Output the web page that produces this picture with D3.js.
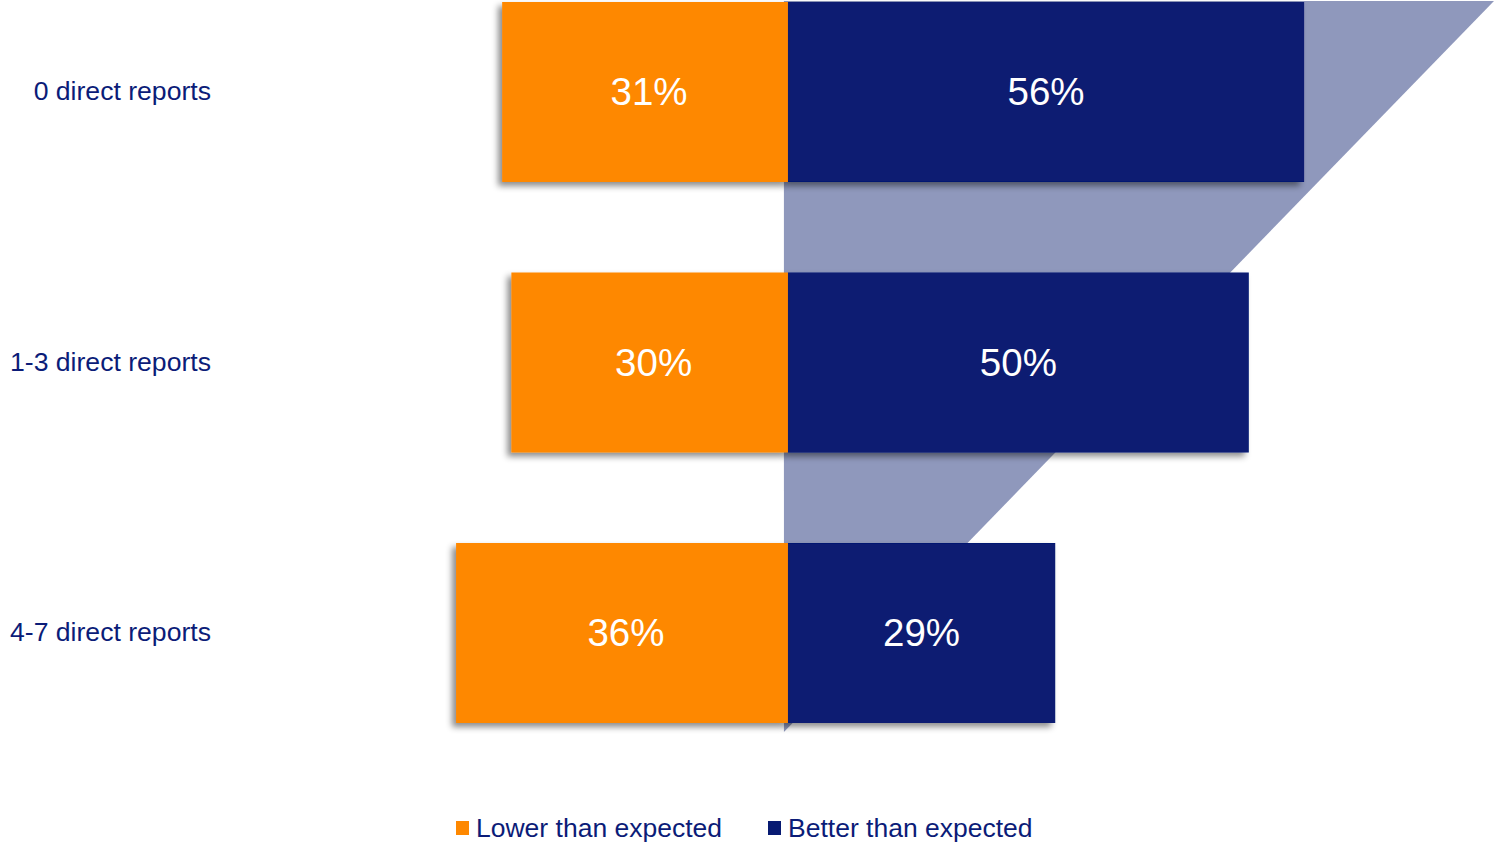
<!DOCTYPE html>
<html>
<head>
<meta charset="utf-8">
<script src="https://cdn.jsdelivr.net/npm/d3@7"></script>
<style>
  html, body { margin: 0; padding: 0; background: #ffffff; }
  svg { display: block; }
  text { font-family: Arial, "Liberation Sans", sans-serif; }
</style>
</head>
<body>
<svg id="chart" width="1494" height="843"></svg>
<script>
const categories = ["0 direct reports", "1-3 direct reports", "4-7 direct reports"];
const lowerValues = [31, 30, 36];
const betterValues = [56, 50, 29];
const seriesNames = ["Lower than expected", "Better than expected"];
const funnelReach = 76.6; // extent of the decorative funnel on the value axis

const colors = { lower: "#FE8800", better: "#071A72", funnel: "#8F98BC", text: "#0B1C78" };

const svg = d3.select("#chart");

const x = d3.scaleLinear().domain([-40, funnelReach]).range([788 - 40 * 9.22, 1494]);
const y = d3.scaleBand().domain(categories).range([2, 723]).paddingInner(0.3346).paddingOuter(0);

const defs = svg.append("defs");
const f = defs.append("filter").attr("id", "shadow").attr("x", "-10%").attr("y", "-10%").attr("width", "120%").attr("height", "125%");
f.append("feDropShadow").attr("dx", -4).attr("dy", 4).attr("stdDeviation", 3)
  .attr("flood-color", "#000").attr("flood-opacity", 0.45);

// decorative funnel behind the bars
const x0 = x(0);
const funnelTop = y.range()[0] - 1;
const funnelBottom = y.range()[1] + 9;
svg.append("polygon")
  .attr("points", [[x0 - 4, funnelTop], [x(funnelReach), funnelTop], [x0 - 4, funnelBottom]].map(p => p.join(",")).join(" "))
  .attr("fill", colors.funnel);

const data = categories.map((c, i) => ({ c, lower: lowerValues[i], better: betterValues[i] }));

const g = svg.append("g");
g.selectAll("rect.better").data(data).join("rect")
  .attr("class", "better")
  .attr("x", x(0)).attr("width", d => x(d.better) - x(0))
  .attr("y", d => y(d.c)).attr("height", y.bandwidth())
  .attr("fill", colors.better).attr("filter", "url(#shadow)");

g.selectAll("rect.lower").data(data).join("rect")
  .attr("class", "lower")
  .attr("x", d => x(-d.lower)).attr("width", d => x(0) - x(-d.lower))
  .attr("y", d => y(d.c)).attr("height", y.bandwidth())
  .attr("fill", colors.lower).attr("filter", "url(#shadow)");

g.selectAll("text.lv").data(data).join("text")
  .attr("class", "lv")
  .attr("x", d => (x(-d.lower) + x(0)) / 2 + 4)
  .attr("y", d => y(d.c) + y.bandwidth() / 2)
  .attr("dy", "0.35em").attr("text-anchor", "middle")
  .attr("fill", "#fff").attr("font-size", 38.5)
  .text(d => d.lower + "%");

g.selectAll("text.bv").data(data).join("text")
  .attr("class", "bv")
  .attr("x", d => (x(d.better) + x(0)) / 2)
  .attr("y", d => y(d.c) + y.bandwidth() / 2)
  .attr("dy", "0.35em").attr("text-anchor", "middle")
  .attr("fill", "#fff").attr("font-size", 38.5)
  .text(d => d.better + "%");

// category labels
svg.append("g").selectAll("text").data(categories).join("text")
  .attr("x", 211).attr("y", d => y(d) + y.bandwidth() / 2 - 1)
  .attr("dy", "0.35em").attr("text-anchor", "end")
  .attr("fill", colors.text).attr("font-size", 26.6)
  .text(d => d);

// legend
const legendItems = [
  { name: seriesNames[0], color: colors.lower, x: 456 },
  { name: seriesNames[1], color: colors.better, x: 768 }
];
const lg = svg.append("g").selectAll("g").data(legendItems).join("g")
  .attr("transform", d => `translate(${d.x},828)`);
lg.append("rect").attr("x", 0).attr("y", -7).attr("width", 13).attr("height", 14).attr("fill", d => d.color);
lg.append("text").attr("x", 20).attr("y", 0).attr("dy", "0.35em")
  .attr("fill", colors.text).attr("font-size", 26.5)
  .text(d => d.name);
</script>
</body>
</html>
